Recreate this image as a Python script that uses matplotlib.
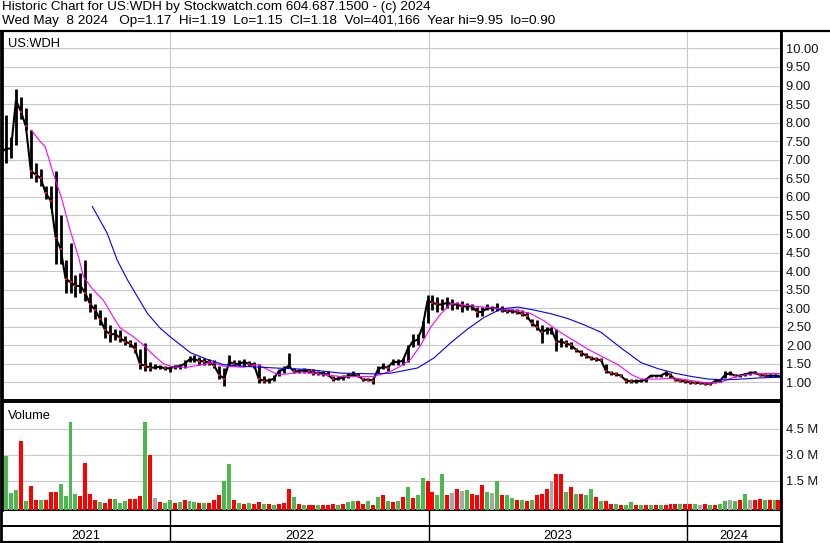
import numpy as np
import pandas as pd
import matplotlib
matplotlib.use("Agg")
import matplotlib.pyplot as plt
import matplotlib.dates as mdates

plt.rcParams['font.family'] = ['Liberation Sans', 'DejaVu Sans']

# weekly bars, first week starts at the IPO date, last point is the quote day
start = pd.Timestamp('2021-05-07')
quote_day = pd.Timestamp('2024-05-08')

close = [7.2, 7.3, 7.3, 8.6, 8.3, 7.9, 6.7, 6.6, 6.5, 6.1,
         5.9, 4.9, 4.6, 3.8, 3.7, 3.6, 3.6, 3.4, 3.1, 2.95,
         2.7, 2.4, 2.3, 2.3, 2.2, 2.1, 2.05, 1.9, 1.5, 1.45,
         1.4, 1.4, 1.42, 1.38, 1.38, 1.42, 1.44, 1.5, 1.62, 1.62,
         1.58, 1.56, 1.55, 1.45, 1.2, 1.1, 1.55, 1.5, 1.5, 1.55,
         1.5, 1.48, 1.08, 1.05, 1.05, 1.1, 1.3, 1.35, 1.45, 1.3,
         1.3, 1.32, 1.3, 1.27, 1.25, 1.25, 1.2, 1.08, 1.1, 1.13,
         1.18, 1.2, 1.18, 1.08, 1.07, 1.05, 1.35, 1.42, 1.4, 1.55,
         1.55, 1.58, 1.9, 2.1, 2.15, 2.5, 3.2, 3.15, 3.1, 3.1,
         3.15, 3.1, 3.1, 3.05, 3.05, 3.05, 2.9, 2.9, 3.0, 3.0,
         3.0, 2.95, 2.92, 2.92, 2.9, 2.85, 2.8, 2.6, 2.5, 2.35,
         2.42, 2.42, 2.1, 2.1, 2.05, 2.0, 1.87, 1.8, 1.72, 1.65,
         1.62, 1.6, 1.3, 1.25, 1.22, 1.18, 1.05, 1.03, 1.03, 1.04,
         1.07, 1.18, 1.18, 1.18, 1.25, 1.2, 1.07, 1.04, 1.03, 1.0,
         0.99, 0.98, 0.97, 0.96, 1.03, 1.05, 1.2, 1.25, 1.18, 1.18,
         1.22, 1.25, 1.27, 1.2, 1.18, 1.18, 1.18, 1.18]

high = [8.5, 8.2, 7.6, 8.9, 8.7, 8.4, 7.8, 6.9, 6.75, 6.3,
        6.3, 6.7, 5.5, 4.3, 4.75, 3.9, 3.95, 4.3, 3.4, 3.1,
        2.95, 2.75, 2.55, 2.45, 2.4, 2.25, 2.15, 2.1, 1.9, 2.05,
        1.55, 1.5, 1.48, 1.45, 1.45, 1.47, 1.5, 1.6, 1.7, 1.73,
        1.68, 1.66, 1.62, 1.6, 1.45, 1.4, 1.75, 1.6, 1.6, 1.62,
        1.58, 1.55, 1.5, 1.16, 1.12, 1.2, 1.35, 1.45, 1.8, 1.4,
        1.35, 1.38, 1.35, 1.35, 1.32, 1.32, 1.3, 1.16, 1.16, 1.2,
        1.25, 1.3, 1.25, 1.13, 1.12, 1.13, 1.45, 1.52, 1.48, 1.62,
        1.62, 1.66, 2.0, 2.3, 2.3, 2.66, 3.35, 3.35, 3.3, 3.25,
        3.3, 3.25, 3.18, 3.2, 3.15, 3.12, 3.03, 3.03, 3.1, 3.07,
        3.15, 3.05, 2.98, 2.98, 2.98, 2.95, 2.9, 2.72, 2.68, 2.55,
        2.5, 2.5, 2.45, 2.2, 2.15, 2.1, 1.93, 1.88, 1.78, 1.72,
        1.68, 1.66, 1.5, 1.3, 1.27, 1.24, 1.12, 1.08, 1.08, 1.08,
        1.12, 1.21, 1.21, 1.21, 1.32, 1.26, 1.12, 1.08, 1.07, 1.04,
        1.03, 1.02, 1.01, 1.0, 1.08, 1.1, 1.3, 1.3, 1.22, 1.22,
        1.26, 1.3, 1.31, 1.25, 1.22, 1.22, 1.22, 1.19]

low = [6.9, 6.9, 7.05, 7.4, 8.1, 7.8, 6.5, 6.4, 6.3, 5.95,
       5.7, 4.2, 4.2, 3.4, 3.4, 3.3, 3.4, 3.2, 2.9, 2.7,
       2.55, 2.2, 2.1, 2.15, 2.1, 2.0, 1.95, 1.8, 1.35, 1.3,
       1.3, 1.35, 1.35, 1.33, 1.28, 1.36, 1.36, 1.38, 1.55, 1.55,
       1.48, 1.48, 1.48, 1.4, 1.1, 0.9, 1.45, 1.45, 1.45, 1.45,
       1.45, 1.4, 0.98, 0.98, 0.98, 1.03, 1.16, 1.25, 1.38, 1.25,
       1.25, 1.25, 1.25, 1.2, 1.2, 1.18, 1.16, 1.05, 1.07, 1.07,
       1.12, 1.16, 1.14, 1.03, 1.03, 0.95, 1.25, 1.35, 1.3, 1.48,
       1.48, 1.48, 1.55, 1.95, 2.0, 2.2, 2.6, 2.95, 2.9, 2.95,
       3.0, 2.95, 2.98, 2.9, 2.95, 2.95, 2.75, 2.8, 2.95, 2.93,
       2.92, 2.9, 2.87, 2.87, 2.85, 2.8, 2.72, 2.52, 2.4, 2.05,
       2.3, 2.3, 1.85, 1.95, 1.95, 1.9, 1.83, 1.72, 1.67, 1.6,
       1.57, 1.57, 1.25, 1.2, 1.17, 1.14, 0.98, 0.99, 0.99, 1.0,
       1.02, 1.14, 1.14, 1.14, 1.16, 1.12, 1.03, 1.0, 0.99, 0.96,
       0.95, 0.95, 0.94, 0.93, 0.98, 1.01, 1.12, 1.2, 1.14, 1.14,
       1.18, 1.2, 1.22, 1.16, 1.14, 1.15, 1.15, 1.15]

# volume in millions, colour code: r = down, g = up, n = unchanged
volume = [3.4, 2.9, 0.8, 0.95, 3.8, 0.3, 1.2, 0.4, 0.35, 0.35,
          0.85, 0.85, 1.29, 0.6, 4.9, 0.7, 0.6, 2.5, 0.75, 0.35,
          0.25, 0.2, 0.45, 0.45, 0.2, 0.3, 0.45, 0.45, 0.6, 4.9,
          3.0, 0.5, 0.25, 0.2, 0.35, 0.2, 0.25, 0.35, 0.3, 0.25,
          0.2, 0.2, 0.2, 0.35, 0.65, 1.48, 2.44, 0.4, 0.2, 0.15,
          0.2, 0.15, 0.25, 0.15, 0.12, 0.1, 0.12, 0.2, 1.0, 0.55,
          0.15, 0.1, 0.1, 0.08, 0.1, 0.08, 0.1, 0.12, 0.1, 0.15,
          0.25, 0.3, 0.3, 0.15, 0.3, 0.1, 0.55, 0.65, 0.3, 0.25,
          0.3, 0.55, 1.13, 0.5, 0.65, 1.65, 1.46, 0.85, 0.65, 1.87,
          0.65, 0.8, 1.0, 0.9, 0.95, 0.75, 0.65, 1.23, 0.85, 0.8,
          1.46, 0.65, 0.65, 0.5, 0.4, 0.35, 0.3, 0.35, 0.65, 0.75,
          1.0, 1.5, 1.9, 1.87, 0.85, 1.15, 0.75, 0.7, 0.65, 1.0,
          0.55, 0.3, 0.3, 0.15, 0.12, 0.1, 0.1, 0.25, 0.08, 0.08,
          0.07, 0.08, 0.08, 0.06, 0.1, 0.12, 0.15, 0.15, 0.15, 0.12,
          0.12, 0.08, 0.15, 0.1, 0.1, 0.15, 0.3, 0.35, 0.3, 0.4,
          0.75, 0.35, 0.4, 0.45, 0.35, 0.4, 0.35, 0.4]
vol_dir = ("rgggrgrrgr" "rrggggrrrr" "grrgggrrrg" "rnrggrgrgg"
           "rgrrrggrgr" "grrgrgrrrg" "rgrrgrrrgr" "ggrrgrgrgr"
           "grgrggrrgg" "rnrngrrrgn" "grggrgrgrr" "rnrrgrgrgg"
           "rgrrgrggrg" "rgrgrrrgrr" "gnrgrggngr" "gnrrgrgr")

# moving averages (x in weeks after start)
ma_fast_wk = [6.1, 7.9, 8.9, 10.5, 12.3, 13.9, 15.6, 16.6, 18.6, 20.6,
              22.6, 24.0, 26.7, 28.7, 30.7, 32.7, 34.7, 37.6, 40.2, 42.8,
              44.8, 48.9, 51.7, 53.7, 55.8, 57.8, 60.4, 65.0, 68.5, 75.2,
              78.6, 80.6, 82.6, 84.6, 86.7, 88.7, 90.7, 92.1, 94.1, 97.4,
              100.8, 104.2, 106.9, 109.5, 112.3, 115.6, 118.4, 121.0, 124.4, 127.1,
              129.1, 132.5, 135.8, 139.2, 142.6, 145.3, 147.9, 151.3, 154.7, 157.0]
ma_fast = [7.80, 7.49, 7.35, 6.64, 5.92, 5.11, 4.39, 3.85, 3.49, 3.22,
           2.77, 2.47, 2.23, 2.01, 1.74, 1.51, 1.41, 1.41, 1.47, 1.53,
           1.44, 1.41, 1.48, 1.35, 1.21, 1.23, 1.28, 1.21, 1.16, 1.16,
           1.30, 1.44, 1.62, 2.00, 2.50, 2.85, 3.12, 3.12, 3.07, 3.03,
           2.98, 2.94, 2.85, 2.66, 2.39, 2.12, 1.89, 1.71, 1.48, 1.21,
           1.09, 1.09, 1.12, 1.05, 0.98, 1.01, 1.15, 1.23, 1.24, 1.24]
ma_slow_wk = [18.4, 21.4, 23.4, 25.5, 27.5, 29.5, 32.1, 34.1, 36.2, 38.2,
              41.6, 44.8, 48.3, 55.0, 61.8, 68.5, 75.2, 78.6, 80.6, 84.0,
              87.3, 90.7, 94.1, 97.4, 100.8, 104.2, 107.5, 110.9, 114.3, 117.6,
              121.0, 125.1, 129.1, 132.5, 135.8, 139.2, 142.6, 145.9, 149.3, 152.7,
              157.0]
ma_slow = [5.74, 5.02, 4.30, 3.76, 3.31, 2.86, 2.46, 2.23, 2.01, 1.80,
           1.62, 1.48, 1.44, 1.39, 1.35, 1.25, 1.23, 1.25, 1.30, 1.39,
           1.66, 2.07, 2.44, 2.75, 2.98, 3.03, 2.95, 2.85, 2.72, 2.55,
           2.35, 1.92, 1.53, 1.37, 1.25, 1.16, 1.09, 1.07, 1.09, 1.12,
           1.14]

price_ticks = np.arange(1.0, 10.01, 0.5)
vol_ticks = [1.5, 3.0, 4.5]
vol_tick_labels = ['1.5 M', '3.0 M', '4.5 M']
years = ['2021', '2022', '2023', '2024']
year_starts = ['2022-01-01', '2023-01-01', '2024-01-01']

header1 = "Historic Chart for US:WDH by Stockwatch.com 604.687.1500 - (c) 2024"
header2 = ("Wed May  8 2024   Op=1.17  Hi=1.19  Lo=1.15  Cl=1.18  "
           "Vol=401,166  Year hi=9.95  lo=0.90")

# ---------------------------------------------------------------------
n = len(close)
dates = list(pd.date_range(start, periods=n - 1, freq='7D')) + [quote_day]
x = mdates.date2num(dates)
close = np.array(close)
x0 = mdates.date2num(start)
xf = x0 + np.array(ma_fast_wk) * 7
xs = x0 + np.array(ma_slow_wk) * 7
xlim = (mdates.date2num(pd.Timestamp('2021-05-08 07:00')),
        mdates.date2num(pd.Timestamp('2024-05-12')))
ygrid = [mdates.date2num(pd.Timestamp(d)) for d in year_starts]

W, H = 830, 543


def rect(l, t, r, b):
    return [l / W, 1 - b / H, (r - l) / W, (b - t) / H]


fig = plt.figure(figsize=(W / 100, H / 100), dpi=100)
GRID = '#c8c8c8'
FS = 9.3

# price panel
ax = fig.add_axes(rect(2, 31, 781, 400))
ax.vlines(x, low, high, color='black', lw=2.0, zorder=3)
ax.plot(x, close, color='black', lw=1.5, zorder=3)
down = np.r_[False, close[1:] < close[:-1]]
ax.plot(x[down], close[down], 's', color='red', ms=1.6, mew=0, zorder=4)
ax.plot(xf, ma_fast, color='#ff00ff', lw=0.8, zorder=5)
ax.plot(xs, ma_slow, color='#0000ff', lw=0.8, zorder=5)
ax.set_xlim(xlim)
ax.set_ylim(0.526, 10.47)
ax.set_yticks(price_ticks)
ax.set_yticklabels(['%.2f' % v for v in price_ticks])
ax.set_xticks(ygrid)
ax.set_xticklabels([])
ax.yaxis.tick_right()
ax.tick_params(length=0, labelsize=FS, pad=3.5, labelcolor='#111122')
ax.grid(True, color=GRID, lw=0.8)
ax.set_axisbelow(True)
ax.text(0.008, 0.982, 'US:WDH', transform=ax.transAxes, fontsize=FS,
        va='top', ha='left')

# volume panel
av = fig.add_axes(rect(2, 402, 781, 510))
cmap = {'r': '#ff0000', 'g': '#4db84d', 'n': '#a8a8a8'}
av.bar(x, np.array(volume) + 0.2, bottom=-0.2, width=5.6,
       color=[cmap[c] for c in vol_dir], zorder=3)
av.set_xlim(xlim)
av.set_ylim(-0.2, 6.03)
av.set_yticks(vol_ticks)
av.set_yticklabels(vol_tick_labels)
av.set_xticks(ygrid)
av.set_xticklabels([])
av.yaxis.tick_right()
av.tick_params(length=0, labelsize=FS, pad=3.5, labelcolor='#111122')
av.grid(True, color=GRID, lw=0.8)
av.set_axisbelow(True)
av.text(0.008, 0.93, 'Volume', transform=av.transAxes, fontsize=FS,
        va='top', ha='left')

# date strip
ad = fig.add_axes(rect(2, 510, 781, 542))
ad.set_xlim(xlim)
ad.set_ylim(0, 1)
ad.axis('off')
ad.axhline(0.5, color='black', lw=1.4)
for g in ygrid:
    ad.axvline(g, color='black', lw=1.0)
edges = [xlim[0]] + ygrid + [xlim[1]]
for i, yr in enumerate(years):
    ad.text((edges[i] + edges[i + 1]) / 2, 0.2, yr, ha='center',
            va='center', fontsize=FS)

for a in (ax, av):
    for side, sp in a.spines.items():
        sp.set_color('black')
        sp.set_linewidth(1.4)
    a.spines['left'].set_linewidth(2.0)

# frame lines
fig.add_artist(plt.Line2D([0, 1], [1 - 31 / H] * 2, color='black', lw=1.6))
fig.add_artist(plt.Line2D([0, 782 / W], [1 - 542 / H] * 2, color='black', lw=1.6))
fig.add_artist(plt.Line2D([1 / W] * 2, [0, 1 - 31 / H], color='black', lw=2.0))
fig.add_artist(plt.Line2D([781 / W] * 2, [0, 1 - 31 / H], color='black', lw=2.0))

HFS = 9.7
fig.text(2 / W, 1 - 1 / H, header1, fontsize=HFS, va='top', ha='left')
fig.text(2 / W, 1 - 15 / H, header2, fontsize=HFS, va='top', ha='left')

fig.savefig('out.png', dpi=100)
